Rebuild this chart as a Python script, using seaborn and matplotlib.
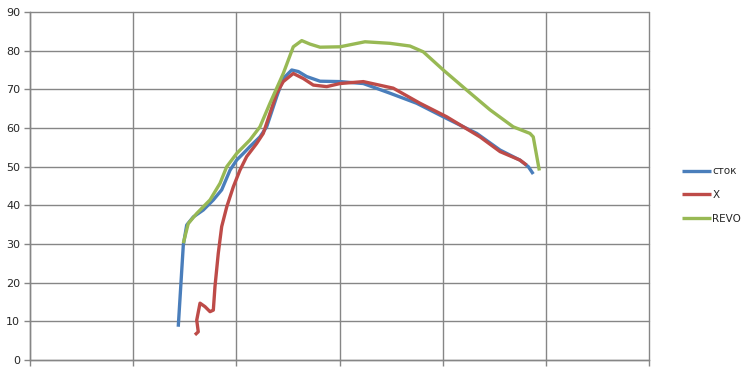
import matplotlib
matplotlib.use("Agg")
import matplotlib.pyplot as plt
import seaborn as sns
import pandas as pd

# ---- data ----
stock_x = [1.437, 1.486, 1.519, 1.583, 1.680, 1.777, 1.858, 1.939, 2.003, 2.067, 2.132, 2.229,
           2.294, 2.391, 2.455, 2.537, 2.601, 2.682, 2.811, 3.005, 3.231, 3.489, 3.748, 4.006,
           4.330, 4.556, 4.749, 4.830, 4.878]
stock_y = [8.6, 29.7, 34.9, 37.0, 38.8, 41.4, 44.0, 49.1, 51.7, 53.4, 55.2, 57.7,
           60.3, 68.1, 72.8, 75.0, 74.6, 73.3, 72.1, 72.0, 71.5, 69.0, 66.4, 62.9,
           58.6, 54.3, 51.7, 50.0, 48.1]

x_x = [1.599, 1.631, 1.616, 1.648, 1.696, 1.745, 1.777, 1.793, 1.825, 1.858, 1.907, 1.971,
       2.035, 2.100, 2.197, 2.261, 2.326, 2.391, 2.455, 2.552, 2.649, 2.746, 2.876, 3.005,
       3.231, 3.521, 3.780, 4.039, 4.362, 4.556, 4.749, 4.814]
x_y = [6.5, 7.3, 10.3, 14.7, 13.8, 12.5, 12.9, 19.0, 27.6, 34.5, 39.6, 44.8,
       49.1, 52.6, 56.0, 58.6, 63.8, 69.0, 72.0, 74.1, 72.8, 71.1, 70.7, 71.5,
       72.0, 70.3, 66.4, 62.9, 57.7, 53.9, 51.7, 50.4]

revo_x = [1.486, 1.534, 1.616, 1.745, 1.842, 1.907, 2.003, 2.132, 2.229, 2.326, 2.455, 2.552,
          2.634, 2.714, 2.811, 3.005, 3.247, 3.489, 3.683, 3.812, 4.006, 4.233, 4.459, 4.684,
          4.846, 4.878, 4.937]
revo_y = [30.2, 35.3, 37.9, 41.4, 45.7, 50.0, 53.4, 56.9, 60.3, 66.4, 74.1, 81.0,
          82.6, 81.7, 80.9, 81.0, 82.3, 81.9, 81.2, 79.7, 75.0, 69.8, 64.7, 60.3,
          58.6, 57.7, 49.0]

series_names = ["сток", "X", "REVO"]
y_ticks = [0, 10, 20, 30, 40, 50, 60, 70, 80, 90]
x_grid = [0, 1, 2, 3, 4, 5, 6]

colors = {"сток": "#4A7EBB", "X": "#BE4B48", "REVO": "#98B954"}

sns.set_style("white")
plt.rcParams['font.family'] = ['DejaVu Sans']

fig = plt.figure(figsize=(7.56, 3.68), dpi=100)
ax = fig.add_axes([30 / 756, 8 / 368, (649 - 30) / 756, (360 - 12) / 368])

frames = []
for name, xs, ys in zip(series_names, [stock_x, x_x, revo_x], [stock_y, x_y, revo_y]):
    frames.append(pd.DataFrame({"x": xs, "y": ys, "series": name}))
df = pd.concat(frames, ignore_index=True)

sns.lineplot(data=df, x="x", y="y", hue="series", hue_order=series_names, palette=colors,
             sort=False, estimator=None, linewidth=2.4, ax=ax, legend=True,
             solid_joinstyle="round", solid_capstyle="butt")

ax.set_xlim(0, 6)
ax.set_ylim(0, 90)
ax.set_xticks(x_grid)
ax.set_xticklabels([])
ax.set_yticks(y_ticks)
ax.set_yticklabels([str(v) for v in y_ticks], fontsize=8)
ax.set_xlabel("")
ax.set_ylabel("")
ax.grid(True, color="#868686", linewidth=1.0)
ax.set_axisbelow(True)
for gl in ax.get_xgridlines() + ax.get_ygridlines():
    gl.set_clip_on(False)
for s in ["top", "right"]:
    ax.spines[s].set_visible(False)
for s in ["left", "bottom"]:
    ax.spines[s].set_color("#868686")
    ax.spines[s].set_linewidth(1.0)
ax.tick_params(axis="both", direction="out", length=4, width=1, color="#868686",
               left=True, bottom=True, pad=3)

leg = ax.legend(loc="center left", bbox_to_anchor=((678 - 30) / 619, (360 - 195) / 348),
                frameon=False, fontsize=7.5, handlelength=2.8, handletextpad=0.1,
                labelspacing=1.3, borderaxespad=0)
for line in leg.get_lines():
    line.set_linewidth(2.4)

fig.savefig("out.png", dpi=100)
